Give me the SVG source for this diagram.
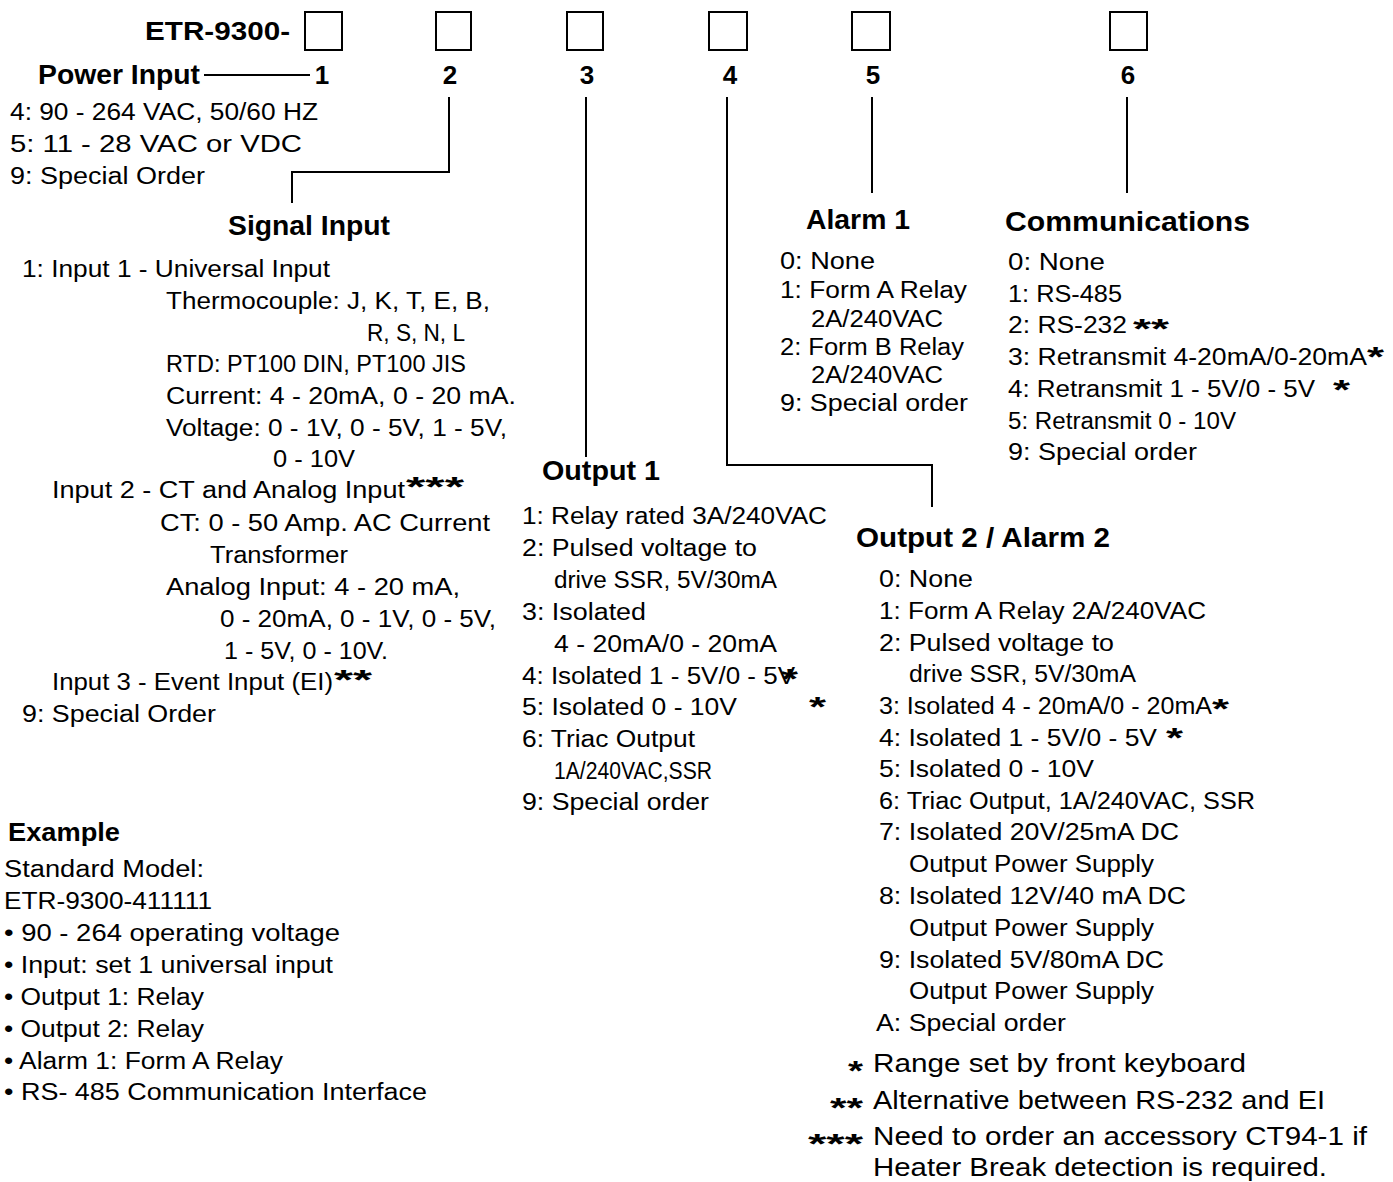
<svg xmlns="http://www.w3.org/2000/svg" width="1393" height="1182" viewBox="0 0 1393 1182">
<style>
text{font-family:"Liberation Sans",Arial,sans-serif;fill:#000}
.t{font-size:23px}
.h{font-size:27px;font-weight:bold}
.n{font-size:26px;font-weight:bold;text-anchor:middle}
.s{font-size:28px;font-weight:bold}
.f{font-size:25px}
.box{fill:#fff;stroke:#000;stroke-width:2}
.ln{fill:none;stroke:#000;stroke-width:2}
</style>
<rect width="1393" height="1182" fill="#fff"/>
<g id="header">
<text class="h" x="145" y="40" style="font-size:25px" textLength="145" lengthAdjust="spacingAndGlyphs">ETR-9300-</text>
<rect class="box" x="305" y="12" width="37" height="38"/>
<rect class="box" x="436" y="12" width="35" height="38"/>
<rect class="box" x="567" y="12" width="36" height="38"/>
<rect class="box" x="709" y="12" width="38" height="38"/>
<rect class="box" x="852" y="12" width="38" height="38"/>
<rect class="box" x="1110" y="12" width="37" height="38"/>
<text class="n" x="322" y="84">1</text>
<text class="n" x="450" y="84">2</text>
<text class="n" x="587" y="84">3</text>
<text class="n" x="730" y="84">4</text>
<text class="n" x="873" y="84">5</text>
<text class="n" x="1128" y="84">6</text>
</g>
<g id="connectors">
<line class="ln" x1="204" y1="75" x2="310" y2="75"/>
<polyline class="ln" points="449,97 449,172 292,172 292,203"/>
<line class="ln" x1="586" y1="97" x2="586" y2="457"/>
<polyline class="ln" points="727,97 727,465 932,465 932,507"/>
<line class="ln" x1="872" y1="97" x2="872" y2="193"/>
<line class="ln" x1="1127" y1="97" x2="1127" y2="193"/>
</g>
<g id="power-input">
<text class="h" x="38" y="84" textLength="162" lengthAdjust="spacingAndGlyphs">Power Input</text>
<text class="t" x="10" y="120" textLength="308" lengthAdjust="spacingAndGlyphs">4: 90 - 264 VAC, 50/60 HZ</text>
<text class="t" x="10" y="152" textLength="292" lengthAdjust="spacingAndGlyphs">5: 11 - 28 VAC or VDC</text>
<text class="t" x="10" y="184" textLength="195" lengthAdjust="spacingAndGlyphs">9: Special Order</text>
</g>
<g id="signal-input">
<text class="h" x="228" y="235" textLength="162" lengthAdjust="spacingAndGlyphs">Signal Input</text>
<text class="t" x="22" y="277" textLength="308" lengthAdjust="spacingAndGlyphs">1: Input 1 - Universal Input</text>
<text class="t" x="166" y="309" textLength="324" lengthAdjust="spacingAndGlyphs">Thermocouple: J, K, T, E, B,</text>
<text class="t" x="367" y="341" textLength="98" lengthAdjust="spacingAndGlyphs">R, S, N, L</text>
<text class="t" x="166" y="372" textLength="300" lengthAdjust="spacingAndGlyphs">RTD: PT100 DIN, PT100 JIS</text>
<text class="t" x="166" y="404" textLength="350" lengthAdjust="spacingAndGlyphs">Current: 4 - 20mA, 0 - 20 mA.</text>
<text class="t" x="166" y="436" textLength="341" lengthAdjust="spacingAndGlyphs">Voltage: 0 - 1V, 0 - 5V, 1 - 5V,</text>
<text class="t" x="273" y="467" textLength="82" lengthAdjust="spacingAndGlyphs">0 - 10V</text>
<text class="t" x="52" y="498" textLength="353" lengthAdjust="spacingAndGlyphs">Input 2 - CT and Analog Input</text>
<text class="s" x="406" y="496" textLength="58" lengthAdjust="spacingAndGlyphs">***</text>
<text class="t" x="160" y="531" textLength="330" lengthAdjust="spacingAndGlyphs">CT: 0 - 50 Amp. AC  Current</text>
<text class="t" x="210" y="563" textLength="138" lengthAdjust="spacingAndGlyphs">Transformer</text>
<text class="t" x="166" y="595" textLength="294" lengthAdjust="spacingAndGlyphs">Analog Input: 4 - 20 mA,</text>
<text class="t" x="220" y="627" textLength="276" lengthAdjust="spacingAndGlyphs">0 - 20mA, 0 - 1V, 0 - 5V,</text>
<text class="t" x="224" y="659" textLength="164" lengthAdjust="spacingAndGlyphs">1 - 5V, 0 - 10V.</text>
<text class="t" x="52" y="690" textLength="281" lengthAdjust="spacingAndGlyphs">Input 3 - Event Input (EI)</text>
<text class="s" x="334" y="689" textLength="38" lengthAdjust="spacingAndGlyphs">**</text>
<text class="t" x="22" y="722" textLength="194" lengthAdjust="spacingAndGlyphs">9: Special Order</text>
</g>
<g id="output-1">
<text class="h" x="542" y="480" textLength="118" lengthAdjust="spacingAndGlyphs">Output 1</text>
<text class="t" x="522" y="524" textLength="305" lengthAdjust="spacingAndGlyphs">1: Relay rated 3A/240VAC</text>
<text class="t" x="522" y="556" textLength="235" lengthAdjust="spacingAndGlyphs">2: Pulsed voltage to</text>
<text class="t" x="554" y="588" textLength="223" lengthAdjust="spacingAndGlyphs">drive SSR, 5V/30mA</text>
<text class="t" x="522" y="620" textLength="124" lengthAdjust="spacingAndGlyphs">3: Isolated</text>
<text class="t" x="554" y="652" textLength="223" lengthAdjust="spacingAndGlyphs">4 - 20mA/0 - 20mA</text>
<text class="t" x="522" y="684" textLength="273" lengthAdjust="spacingAndGlyphs">4: Isolated 1 - 5V/0 - 5V</text>
<text class="s" x="781" y="688" textLength="17" lengthAdjust="spacingAndGlyphs">*</text>
<text class="t" x="522" y="715" textLength="215" lengthAdjust="spacingAndGlyphs">5: Isolated 0 - 10V</text>
<text class="s" x="809" y="716" textLength="17" lengthAdjust="spacingAndGlyphs">*</text>
<text class="t" x="522" y="747" textLength="173" lengthAdjust="spacingAndGlyphs">6: Triac Output</text>
<text class="t" x="554" y="779" textLength="158" lengthAdjust="spacingAndGlyphs">1A/240VAC,SSR</text>
<text class="t" x="522" y="810" textLength="187" lengthAdjust="spacingAndGlyphs">9: Special order</text>
</g>
<g id="alarm-1">
<text class="h" x="806" y="229" textLength="104" lengthAdjust="spacingAndGlyphs">Alarm 1</text>
<text class="t" x="780" y="269" textLength="95" lengthAdjust="spacingAndGlyphs">0: None</text>
<text class="t" x="780" y="298" textLength="187" lengthAdjust="spacingAndGlyphs">1: Form A Relay</text>
<text class="t" x="811" y="327" textLength="132" lengthAdjust="spacingAndGlyphs">2A/240VAC</text>
<text class="t" x="780" y="355" textLength="184" lengthAdjust="spacingAndGlyphs">2: Form B Relay</text>
<text class="t" x="811" y="383" textLength="132" lengthAdjust="spacingAndGlyphs">2A/240VAC</text>
<text class="t" x="780" y="411" textLength="188" lengthAdjust="spacingAndGlyphs">9: Special order</text>
</g>
<g id="communications">
<text class="h" x="1005" y="231" textLength="245" lengthAdjust="spacingAndGlyphs">Communications</text>
<text class="t" x="1008" y="270" textLength="97" lengthAdjust="spacingAndGlyphs">0: None</text>
<text class="t" x="1008" y="302" textLength="114" lengthAdjust="spacingAndGlyphs">1: RS-485</text>
<text class="t" x="1008" y="333" textLength="119" lengthAdjust="spacingAndGlyphs">2: RS-232</text>
<text class="s" x="1133" y="338" textLength="36" lengthAdjust="spacingAndGlyphs">**</text>
<text class="t" x="1008" y="365" textLength="359" lengthAdjust="spacingAndGlyphs">3: Retransmit 4-20mA/0-20mA</text>
<text class="s" x="1367" y="366" textLength="17" lengthAdjust="spacingAndGlyphs">*</text>
<text class="t" x="1008" y="397" textLength="307" lengthAdjust="spacingAndGlyphs">4: Retransmit 1 - 5V/0 - 5V</text>
<text class="s" x="1333" y="399" textLength="17" lengthAdjust="spacingAndGlyphs">*</text>
<text class="t" x="1008" y="429" textLength="228" lengthAdjust="spacingAndGlyphs">5: Retransmit 0 - 10V</text>
<text class="t" x="1008" y="460" textLength="189" lengthAdjust="spacingAndGlyphs">9: Special order</text>
</g>
<g id="output-2-alarm-2">
<text class="h" x="856" y="547" textLength="254" lengthAdjust="spacingAndGlyphs">Output 2 / Alarm 2</text>
<text class="t" x="879" y="587" textLength="94" lengthAdjust="spacingAndGlyphs">0: None</text>
<text class="t" x="879" y="619" textLength="327" lengthAdjust="spacingAndGlyphs">1: Form A Relay 2A/240VAC</text>
<text class="t" x="879" y="651" textLength="235" lengthAdjust="spacingAndGlyphs">2: Pulsed voltage to</text>
<text class="t" x="909" y="682" textLength="227" lengthAdjust="spacingAndGlyphs">drive SSR, 5V/30mA</text>
<text class="t" x="879" y="714" textLength="333" lengthAdjust="spacingAndGlyphs">3: Isolated 4 - 20mA/0 - 20mA</text>
<text class="s" x="1212" y="718" textLength="17" lengthAdjust="spacingAndGlyphs">*</text>
<text class="t" x="879" y="746" textLength="278" lengthAdjust="spacingAndGlyphs">4: Isolated 1 - 5V/0 - 5V</text>
<text class="s" x="1166" y="747" textLength="17" lengthAdjust="spacingAndGlyphs">*</text>
<text class="t" x="879" y="777" textLength="215" lengthAdjust="spacingAndGlyphs">5: Isolated 0 - 10V</text>
<text class="t" x="879" y="809" textLength="376" lengthAdjust="spacingAndGlyphs">6: Triac Output, 1A/240VAC, SSR</text>
<text class="t" x="879" y="840" textLength="300" lengthAdjust="spacingAndGlyphs">7: Isolated 20V/25mA DC</text>
<text class="t" x="909" y="872" textLength="245" lengthAdjust="spacingAndGlyphs">Output Power Supply</text>
<text class="t" x="879" y="904" textLength="307" lengthAdjust="spacingAndGlyphs">8: Isolated 12V/40 mA DC</text>
<text class="t" x="909" y="936" textLength="245" lengthAdjust="spacingAndGlyphs">Output Power Supply</text>
<text class="t" x="879" y="968" textLength="285" lengthAdjust="spacingAndGlyphs">9: Isolated 5V/80mA DC</text>
<text class="t" x="909" y="999" textLength="245" lengthAdjust="spacingAndGlyphs">Output Power Supply</text>
<text class="t" x="876" y="1031" textLength="190" lengthAdjust="spacingAndGlyphs">A: Special order</text>
</g>
<g id="footnotes">
<text class="s" x="848" y="1080" textLength="15" lengthAdjust="spacingAndGlyphs">*</text>
<text class="f" x="873" y="1072" textLength="373" lengthAdjust="spacingAndGlyphs">Range set by front keyboard</text>
<text class="s" x="830" y="1117" textLength="33" lengthAdjust="spacingAndGlyphs">**</text>
<text class="f" x="873" y="1109" textLength="452" lengthAdjust="spacingAndGlyphs">Alternative between RS-232 and EI</text>
<text class="s" x="808" y="1153" textLength="55" lengthAdjust="spacingAndGlyphs">***</text>
<text class="f" x="873" y="1145" textLength="494" lengthAdjust="spacingAndGlyphs">Need to order an accessory CT94-1 if</text>
<text class="f" x="873" y="1176" textLength="454" lengthAdjust="spacingAndGlyphs">Heater Break detection is required.</text>
</g>
<g id="example">
<text class="h" x="8" y="841" style="font-size:25px" textLength="112" lengthAdjust="spacingAndGlyphs">Example</text>
<text class="t" x="4" y="877" textLength="200" lengthAdjust="spacingAndGlyphs">Standard Model:</text>
<text class="t" x="4" y="909" textLength="208" lengthAdjust="spacingAndGlyphs">ETR-9300-411111</text>
<text class="t" x="4" y="941" textLength="336" lengthAdjust="spacingAndGlyphs">• 90 - 264 operating voltage</text>
<text class="t" x="4" y="973" textLength="329" lengthAdjust="spacingAndGlyphs">• Input:  set 1 universal input</text>
<text class="t" x="4" y="1005" textLength="200" lengthAdjust="spacingAndGlyphs">• Output 1: Relay</text>
<text class="t" x="4" y="1037" textLength="200" lengthAdjust="spacingAndGlyphs">• Output 2: Relay</text>
<text class="t" x="4" y="1069" textLength="279" lengthAdjust="spacingAndGlyphs">• Alarm 1: Form A Relay</text>
<text class="t" x="4" y="1100" textLength="423" lengthAdjust="spacingAndGlyphs">• RS- 485 Communication Interface</text>
</g>
</svg>
